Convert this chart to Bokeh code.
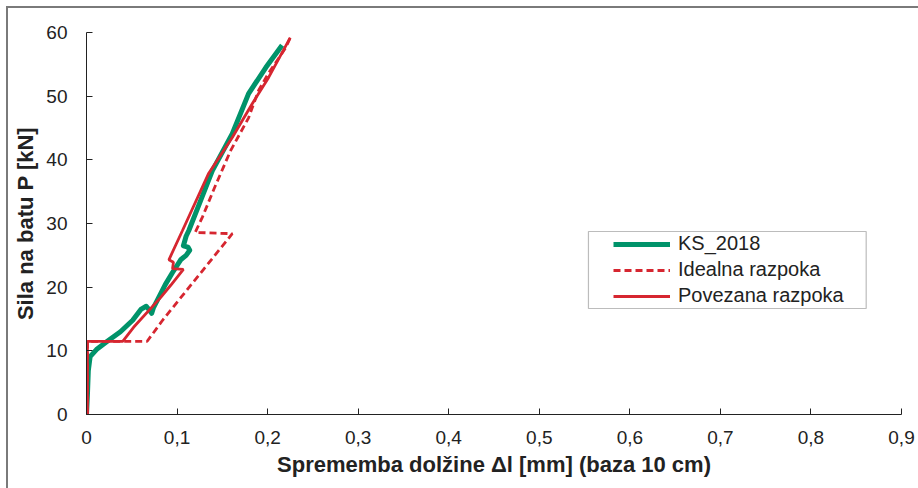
from bokeh.plotting import figure
from bokeh.models import Range1d, FixedTicker, Legend, LegendItem, BoxAnnotation
from bokeh.embed import file_html
from bokeh.resources import INLINE

# ---------------- data ----------------
ks_x = [0.0, 0.001, 0.002, 0.004, 0.011, 0.023, 0.0375, 0.051, 0.060, 0.066, 0.070, 0.072,
        0.074, 0.078, 0.087, 0.095, 0.104, 0.110, 0.114, 0.112, 0.107, 0.110, 0.113, 0.126,
        0.139, 0.161, 0.179, 0.198, 0.216]
ks_y = [0.0, 3.0, 6.9, 9.1, 10.2, 11.5, 13.0, 14.8, 16.5, 17.0, 16.3, 15.9,
        16.8, 17.9, 20.4, 22.3, 24.3, 25.0, 25.8, 26.3, 26.5, 28.0, 28.9, 33.6,
        38.3, 44.1, 50.4, 54.5, 58.0]

ideal_x = [0.001, 0.001, 0.067, 0.084, 0.161, 0.120, 0.128, 0.141, 0.159, 0.179,
           0.190, 0.201, 0.220, 0.225]
ideal_y = [0.0, 11.5, 11.5, 14.8, 28.4, 28.6, 31.0, 35.5, 41.4, 46.6,
           50.9, 53.6, 57.6, 59.2]

pov_x = [0.001, 0.001, 0.040, 0.052, 0.082, 0.093, 0.107, 0.095, 0.096, 0.091,
         0.106, 0.135, 0.161, 0.183, 0.201, 0.225]
pov_y = [0.0, 11.5, 11.5, 13.7, 18.4, 20.3, 22.8, 22.9, 23.9, 24.3,
         28.9, 37.9, 43.5, 48.8, 52.9, 59.2]

x_ticks = [0, 0.1, 0.2, 0.3, 0.4, 0.5, 0.6, 0.7, 0.8, 0.9]
x_tick_labels = ["0", "0,1", "0,2", "0,3", "0,4", "0,5", "0,6", "0,7", "0,8", "0,9"]
y_ticks = [0, 10, 20, 30, 40, 50, 60]

series_names = ["KS_2018", "Idealna razpoka", "Povezana razpoka"]

# ---------------- styling ----------------
GREEN = "#00936A"
RED = "#D62630"
TXT = "#222222"
FONT = "Liberation Sans"

p = figure(width=910, height=480, output_backend="svg", toolbar_location=None,
           x_range=Range1d(0, 0.9), y_range=Range1d(0, 60),
           min_border_left=78, min_border_top=24, min_border_right=17, min_border_bottom=74,
           styles={"margin": "8px 0 0 8px", "outline": "2px solid #7a7a7a"})
p.outline_line_color = None
p.xgrid.grid_line_color = None
p.ygrid.grid_line_color = None
p.background_fill_color = "white"
p.border_fill_color = "white"

r_ks = p.line(ks_x, ks_y, line_color=GREEN, line_width=5, line_join="round")
r_id = p.line(ideal_x, ideal_y, line_color=RED, line_width=2.8, line_dash="7 4")
r_pv = p.line(pov_x, pov_y, line_color=RED, line_width=2.8)

for ax in (p.xaxis[0], p.yaxis[0]):
    ax.axis_line_color = TXT
    ax.major_tick_line_color = TXT
    ax.major_tick_in = 6
    ax.major_tick_out = 0
    ax.minor_tick_line_color = None
    ax.major_label_text_font = FONT
    ax.major_label_text_font_size = "19px"
    ax.major_label_text_color = TXT
    ax.axis_label_text_font = FONT
    ax.axis_label_text_font_size = "22px"
    ax.axis_label_text_font_style = "bold"
    ax.axis_label_text_color = TXT

p.xaxis.ticker = FixedTicker(ticks=x_ticks)
p.xaxis.major_label_overrides = {t: l for t, l in zip(x_ticks, x_tick_labels)}
p.xaxis.major_label_standoff = 16
p.xaxis.axis_label = "Sprememba dolžine Δl [mm] (baza 10 cm)"
p.xaxis.axis_label_standoff = 5

p.yaxis.ticker = FixedTicker(ticks=y_ticks)
p.yaxis.major_label_standoff = 19
p.yaxis.axis_label = "Sila na batu P [kN]"
p.yaxis.axis_label_standoff = 5

legend = Legend(items=[LegendItem(label=series_names[0], renderers=[r_ks]),
                       LegendItem(label=series_names[1], renderers=[r_id]),
                       LegendItem(label=series_names[2], renderers=[r_pv])],
                location=(524, 104), orientation="vertical",
                padding=3, spacing=3, margin=0,
                glyph_width=57, glyph_height=20, label_height=20, label_standoff=8,
                label_text_font=FONT, label_text_font_size="20px", label_text_color=TXT,
                border_line_alpha=0, background_fill_alpha=0)
p.add_layout(legend, "center")

legend_box = BoxAnnotation(left=0.5543, right=0.861, top=28.74, bottom=16.65,
                           fill_alpha=0, line_color=TXT, line_width=1.2)
p.add_layout(legend_box)

open("out.html", "w").write(file_html(p, INLINE))
